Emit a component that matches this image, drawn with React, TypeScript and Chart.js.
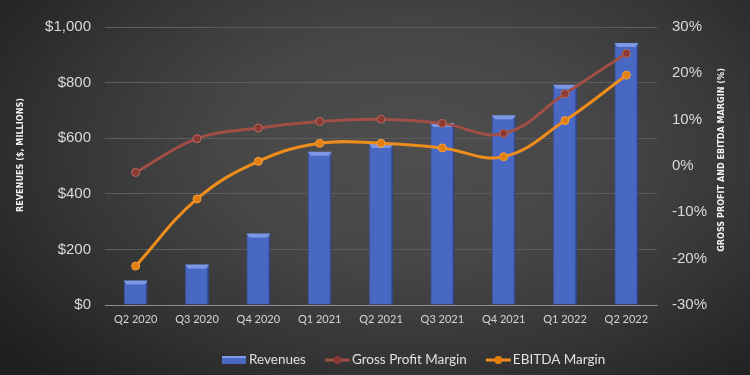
import React, { useEffect, useRef } from "react";
import { Chart, registerables } from "chart.js";

Chart.register(...registerables);

const categories = ["Q2 2020", "Q3 2020", "Q4 2020", "Q1 2021", "Q2 2021", "Q3 2021", "Q4 2021", "Q1 2022", "Q2 2022"];
const revenues = [88, 146, 257, 551, 579, 655, 683, 792, 942];
const grossProfitMargin = [-1.4, 5.9, 8.2, 9.6, 10.1, 9.2, 7.0, 15.6, 24.3];
const ebitdaMargin = [-21.6, -7.1, 1.0, 4.9, 4.9, 3.9, 2.0, 9.8, 19.6];
const leftTitle = "REVENUES ($, MILLIONS)";
const rightTitle = "GROSS PROFIT AND EBITDA MARGIN (%)";
const legendLabels = ["Revenues", "Gross Profit Margin", "EBITDA Margin"];

const BAR = "#4868c4";
const GROSS = "#a04e46";
const GROSS_PT = "#8a3a33";
const EBITDA = "#ee8c1c";
const EBITDA_PT = "#e07f10";

const titlesPlugin = {
  id: "axisTitles",
  afterDraw(chart: any) {
    const ctx = chart.ctx;
    ctx.save();
    ctx.fillStyle = "#f2f2f2";
    ctx.font = "bold 9px 'DejaVu Sans Condensed', 'DejaVu Sans', sans-serif";
    ctx.textAlign = "center";
    ctx.textBaseline = "middle";
    ctx.translate(21, 155);
    ctx.rotate(-Math.PI / 2);
    ctx.fillText(leftTitle, 0, 0);
    ctx.restore();
    ctx.save();
    ctx.fillStyle = "#f2f2f2";
    ctx.font = "bold 9px 'DejaVu Sans Condensed', 'DejaVu Sans', sans-serif";
    ctx.textAlign = "center";
    ctx.textBaseline = "middle";
    ctx.translate(722, 160);
    ctx.rotate(-Math.PI / 2);
    ctx.fillText(rightTitle, 0, 0);
    ctx.restore();
  },
};

const bevelPlugin = {
  id: "bevel",
  afterDatasetDraw(chart: any, args: any) {
    const meta = chart.getDatasetMeta(args.index);
    if (meta.type !== "bar") return;
    const ctx = chart.ctx;
    ctx.save();
    meta.data.forEach((el: any) => {
      const half = el.width / 2;
      const l = el.x - half;
      const r = el.x + half;
      const t = el.y;
      ctx.fillStyle = "#7d97e4";
      ctx.beginPath();
      ctx.moveTo(l, t);
      ctx.lineTo(r, t);
      ctx.lineTo(r - 3, t + 4);
      ctx.lineTo(l + 3, t + 4);
      ctx.closePath();
      ctx.fill();
      ctx.fillStyle = "rgba(30,45,100,0.35)";
      ctx.fillRect(r - 2, t + 4, 2, el.base - t - 4);
    });
    ctx.restore();
  },
};

const legendPlugin = {
  id: "customLegend",
  afterDraw(chart: any) {
    const ctx = chart.ctx;
    ctx.save();
    ctx.font = "13.5px Lato, sans-serif";
    ctx.textBaseline = "middle";
    ctx.textAlign = "left";
    const y = 360;
    let x = 222;
    legendLabels.forEach((label, i) => {
      if (i === 0) {
        ctx.fillStyle = BAR;
        ctx.fillRect(x, y - 4, 24, 8);
        ctx.fillStyle = "#7f9ae6";
        ctx.fillRect(x, y - 4, 24, 2);
      } else {
        const c = i === 1 ? GROSS : EBITDA;
        const p = i === 1 ? GROSS_PT : EBITDA_PT;
        ctx.strokeStyle = c;
        ctx.lineWidth = 3;
        ctx.beginPath();
        ctx.moveTo(x, y);
        ctx.lineTo(x + 25, y);
        ctx.stroke();
        ctx.fillStyle = p;
        ctx.beginPath();
        ctx.arc(x + 12.5, y, 4, 0, Math.PI * 2);
        ctx.fill();
      }
      x += 27;
      ctx.fillStyle = "#e0e0e0";
      ctx.fillText(label, x, y);
      x += ctx.measureText(label).width + 19;
    });
    ctx.restore();
  },
};

export default function App() {
  const ref = useRef<HTMLCanvasElement | null>(null);

  useEffect(() => {
    if (!ref.current) return;
    const chart = new Chart(ref.current, {
      type: "bar",
      data: {
        labels: categories,
        datasets: [
          {
            type: "line",
            label: "Gross Profit Margin",
            data: grossProfitMargin,
            yAxisID: "y1",
            borderColor: GROSS,
            backgroundColor: GROSS_PT,
            pointBackgroundColor: GROSS_PT,
            pointBorderColor: "#b86a60",
            pointBorderWidth: 1,
            borderWidth: 3,
            pointRadius: 4,
            tension: 0.4,
            order: 1,
          } as any,
          {
            type: "line",
            label: "EBITDA Margin",
            data: ebitdaMargin,
            yAxisID: "y1",
            borderColor: EBITDA,
            backgroundColor: EBITDA_PT,
            pointBackgroundColor: EBITDA_PT,
            pointBorderColor: "#f4a040",
            pointBorderWidth: 1,
            borderWidth: 3,
            pointRadius: 4,
            tension: 0.4,
            order: 2,
          } as any,
          {
            type: "bar",
            label: "Revenues",
            data: revenues,
            yAxisID: "y",
            backgroundColor: BAR,
            borderColor: "#3a55a4",
            borderWidth: 1,
            barPercentage: 0.39,
            categoryPercentage: 1,
            order: 3,
          } as any,
        ],
      },
      options: {
        animation: false,
        responsive: false,
        maintainAspectRatio: false,
        layout: { padding: { top: 27, bottom: 0, left: 0, right: 0 } },
        plugins: {
          tooltip: { enabled: false },
          legend: { display: false },
        },
        scales: {
          x: {
            grid: { display: false, drawTicks: false },
            border: { display: true, color: "#8c8c8c", width: 1 },
            ticks: { color: "#d4d4d4", font: { family: "Lato, sans-serif", size: 11 }, padding: 8, maxRotation: 0 },
            afterFit: (s: any) => { s.height = 70; },
          },
          y: {
            position: "left",
            min: 0,
            max: 1000,
            ticks: {
              stepSize: 200,
              color: "#d9d9d9",
              padding: 14,
              font: { family: "'Liberation Sans', Arial, sans-serif", size: 15 },
              callback: (v: any) => "$" + Number(v).toLocaleString("en-US"),
            },
            grid: { color: "#5c5c5c", lineWidth: 1, drawTicks: false },
            border: { display: false },
            afterFit: (s: any) => { s.width = 105; },
          },
          y1: {
            position: "right",
            min: -30,
            max: 30,
            ticks: {
              stepSize: 10,
              color: "#d9d9d9",
              padding: 15,
              font: { family: "'Liberation Sans', Arial, sans-serif", size: 15 },
              callback: (v: any) => v + "%",
            },
            grid: { display: false, drawTicks: false },
            border: { display: false },
            afterFit: (s: any) => { s.width = 93; },
          },
        },
      },
      plugins: [bevelPlugin, titlesPlugin, legendPlugin],
    } as any);
    return () => chart.destroy();
  }, []);

  return (
    <div
      style={{
        position: "fixed",
        left: 0,
        top: 0,
        width: 750,
        height: 375,
        background:
          "radial-gradient(ellipse 70% 85% at 55% 40%, #4e4e4e 0%, #474747 35%, #363636 65%, #252525 90%, #1f1f1f 100%)",
      }}
    >
      <canvas ref={ref} width={750} height={375} style={{ display: "block" }} />
    </div>
  );
}
